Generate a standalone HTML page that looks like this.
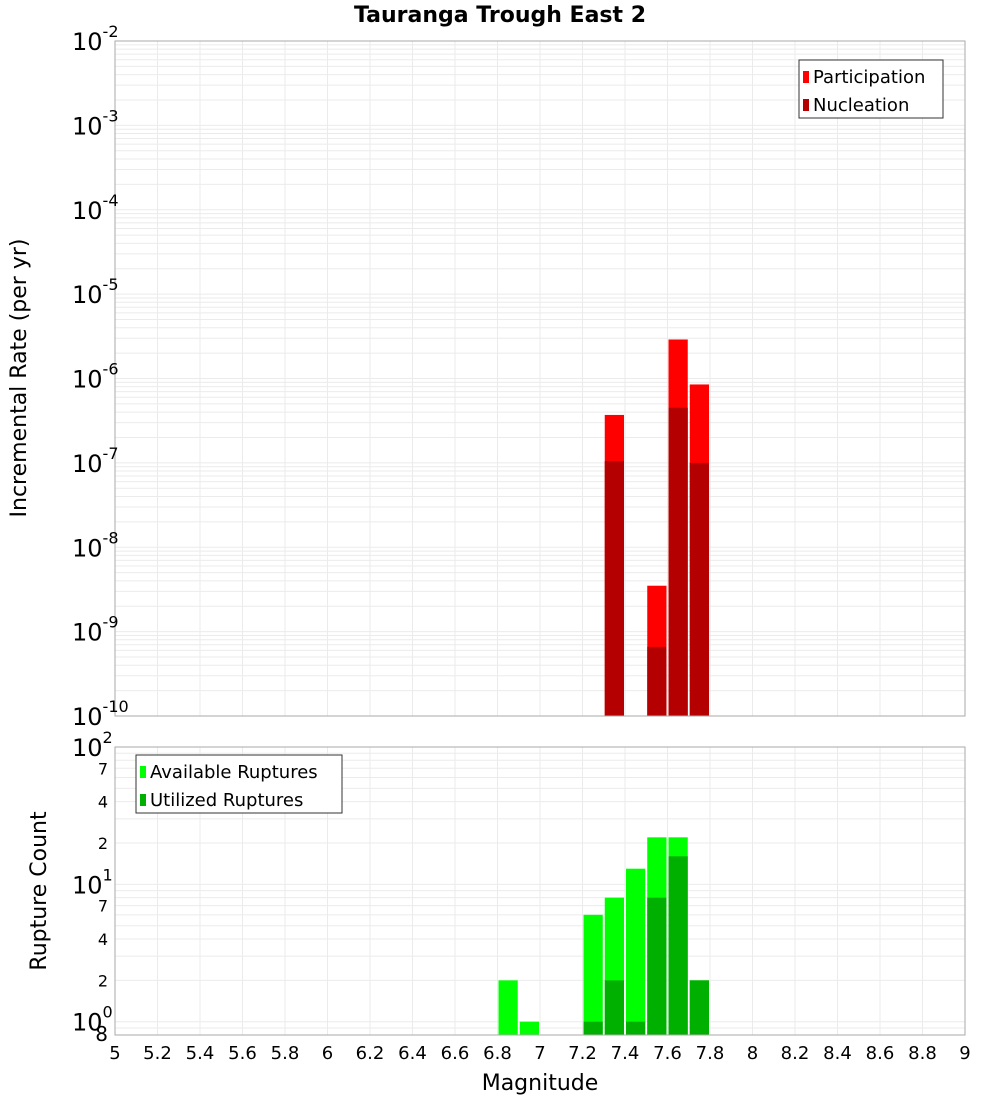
<!DOCTYPE html>
<html><head><meta charset="utf-8"><style>
body{margin:0;background:#fff;font-family:"DejaVu Sans","Liberation Sans",sans-serif;}
svg text{font-family:"DejaVu Sans","Liberation Sans",sans-serif;}
</style></head><body>
<svg id="c" width="1000" height="1100" xmlns="http://www.w3.org/2000/svg"></svg>
<script>
const binStarts=[7.3,7.5,7.6,7.7];
const participation=[3.7e-7,3.5e-9,2.9e-6,8.5e-7];
const nucleation=[1.05e-7,6.6e-10,4.5e-7,1.0e-7];
const countBins=[6.8,6.9,7.2,7.3,7.4,7.5,7.6,7.7];
const available=[2,1,6,8,13,22,22,2];
const utilized=[0,0,1,2,1,8,16,2];
const xTicks=[5,5.2,5.4,5.6,5.8,6,6.2,6.4,6.6,6.8,7,7.2,7.4,7.6,7.8,8,8.2,8.4,8.6,8.8,9];
const topExps=[-2,-3,-4,-5,-6,-7,-8,-9,-10];

const svg=document.getElementById('c');
const NS='http://www.w3.org/2000/svg';
function el(t,a,p){const e=document.createElementNS(NS,t);for(const k in a)e.setAttribute(k,a[k]);(p||svg).appendChild(e);return e;}
const L=115,R=965;
const X=v=>L+(v-5)/4*(R-L);
const T0=41,T1=716;
const YT=v=>T0+(-2-Math.log10(v))/8*(T1-T0);
const B0=747,B1=1035;
const YB=v=>B0+(2-Math.log10(v))/Math.log10(100/0.8)*(B1-B0);

// title
let t=el('text',{x:500,y:22,'text-anchor':'middle','font-size':22,'font-weight':'bold'});t.textContent='Tauranga Trough East 2';


function grid(y0,y1,Y,ticks){
  const g=el('g',{});
  
  for(let v=5;v<=9.001;v+=0.2){el('line',{x1:X(v),x2:X(v),y1:y0,y2:y1,stroke:'#ebebeb','stroke-width':1},g);}
  ticks.forEach(v=>{const y=Y(v);if(y>=y0-0.5&&y<=y1+0.5)el('line',{x1:L,x2:R,y1:y,y2:y,stroke:'#ebebeb','stroke-width':1},g);});
}
// top grid
let tt=[];for(let e=-10;e<-2;e++)for(let m=1;m<10;m++)tt.push(m*Math.pow(10,e));tt.push(0.01);
grid(T0,T1,YT,tt);
let bt=[];[0.1,1,10].forEach(d=>{for(let m=1;m<10;m++)bt.push(m*d);});bt.push(100);
grid(B0,B1,YB,bt);

// top bars
const bw=(X(5.1)-X(5))-2;
binStarts.forEach((b,i)=>{
  let r=el('rect',{x:X(b)+1,y:YT(participation[i]),width:bw,height:T1-YT(participation[i]),fill:'#ff0000'});
  
  r=el('rect',{x:X(b)+1,y:YT(nucleation[i]),width:bw,height:T1-YT(nucleation[i]),fill:'#b40000'});
  
});
countBins.forEach((b,i)=>{
  let r=el('rect',{x:X(b)+1,y:YB(available[i]),width:bw,height:B1-YB(available[i]),fill:'#00ff00'});
  
  if(utilized[i]>0){r=el('rect',{x:X(b)+1,y:YB(utilized[i]),width:bw,height:B1-YB(utilized[i]),fill:'#00b000'});
  }
});
// frames
let f=el('rect',{x:L,y:T0,width:R-L,height:T1-T0,fill:'none',stroke:'#aaa'});

f=el('rect',{x:L,y:B0,width:R-L,height:B1-B0,fill:'none',stroke:'#aaa'});


// top y labels
topExps.forEach(e=>{
  const y=YT(Math.pow(10,e));
  const tx=el('text',{x:72,y:y+9,'font-size':24});
  
  tx.textContent='10';
  const s=el('tspan',{dy:-13,'font-size':16},tx);s.textContent=String(e);
});
// bottom y labels
[[100,'2'],[10,'1'],[1,'0']].forEach(([v,e])=>{
  const y=YB(v);
  const tx=el('text',{x:72,y:y+9,'font-size':24});
  
  tx.textContent='10';
  const s=el('tspan',{dy:-13,'font-size':16},tx);s.textContent=e;
});
[[70,'7'],[40,'4'],[20,'2'],[7,'7'],[4,'4'],[2,'2'],[0.8,'8']].forEach(([v,l])=>{
  const tx=el('text',{x:108,y:YB(v)+6,'text-anchor':'end','font-size':v===0.8?20:16});
  
  tx.textContent=l;
});
// x labels
xTicks.forEach(v=>{
  const tx=el('text',{x:X(v),y:1059,'text-anchor':'middle','font-size':18});
  
  tx.textContent=String(v);
});
t=el('text',{x:540,y:1090,'text-anchor':'middle','font-size':22});t.textContent='Magnitude';

t=el('text',{x:0,y:0,'text-anchor':'middle','font-size':22,transform:'translate(26,378) rotate(-90)'});t.textContent='Incremental Rate (per yr)';

t=el('text',{x:0,y:0,'text-anchor':'middle','font-size':22,transform:'translate(46,891) rotate(-90)'});t.textContent='Rupture Count';


function legend(x,y,w,items,name){
  const g=el('g',{});
  el('rect',{x:x,y:y,width:w,height:58,fill:'#fff',stroke:'#333'},g);
  items.forEach(([c,l],i)=>{
    el('rect',{x:x+4,y:y+11+i*28,width:6,height:12,fill:c},g);
    const tx=el('text',{x:x+14,y:y+23+i*28,'font-size':18},g);tx.textContent=l;
  });
}
legend(799,60,144,[['#ff0000','Participation'],['#b40000','Nucleation']],'top-legend');
legend(136,755,206,[['#00ff00','Available Ruptures'],['#00b000','Utilized Ruptures']],'bottom-legend');
</script>
</body></html>
